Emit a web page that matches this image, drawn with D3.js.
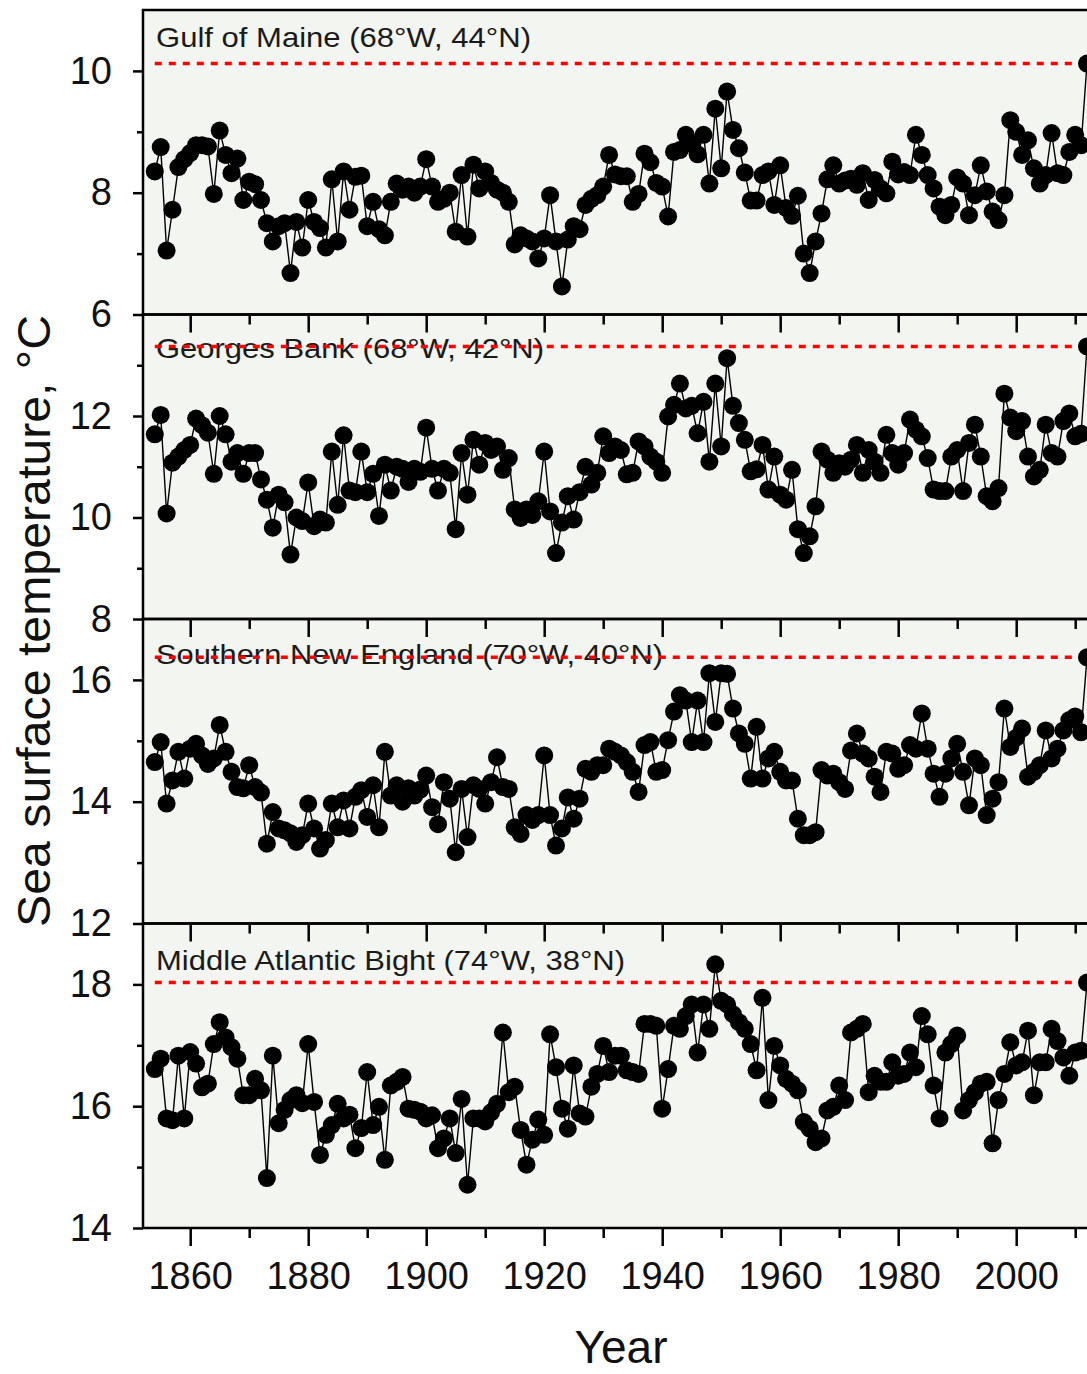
<!DOCTYPE html>
<html><head><meta charset="utf-8">
<script src="https://cdn.jsdelivr.net/npm/d3@7"></script>
<style>body{margin:0;background:#fff}svg{display:block}</style>
</head><body><svg id="c" width="1087" height="1374"></svg>
<script>
const firstYear = 1854, lastYear = 2012;
const years = d3.range(firstYear, lastYear + 1);

const gulfOfMaine = [8.35, 8.75, 7.05, 7.72, 8.42, 8.55,
 8.65, 8.78, 8.78, 8.76, 7.98, 9.02, 8.62, 8.32, 8.56, 7.88,
 8.18, 8.14, 7.88, 7.50, 7.20, 7.45, 7.50, 6.68, 7.52, 7.10,
 7.88, 7.52, 7.42, 7.10, 8.22, 7.20, 8.35, 7.72, 8.26, 8.28,
 7.45, 7.85, 7.40, 7.30, 7.85, 8.15, 8.05, 8.10, 8.00, 8.10,
 8.55, 8.10, 7.85, 7.90, 8.00, 7.36, 8.29, 7.28, 8.46, 8.07,
 8.35, 8.16, 8.05, 8.00, 7.85, 7.15, 7.30, 7.25, 7.20, 6.92,
 7.25, 7.96, 7.20, 6.46, 7.23, 7.45, 7.40, 7.80, 7.90, 7.96,
 8.10, 8.62, 8.30, 8.27, 8.27, 7.85, 7.98, 8.64, 8.50, 8.16,
 8.10, 7.61, 8.67, 8.70, 8.95, 8.80, 8.63, 8.95, 8.15, 9.38,
 8.40, 9.66, 9.03, 8.73, 8.33, 7.87, 7.87, 8.29, 8.35, 7.80,
 8.45, 7.75, 7.62, 7.95, 7.00, 6.68, 7.20, 7.66, 8.22, 8.45,
 8.15, 8.20, 8.23, 8.13, 8.32, 7.88, 8.21, 8.07, 7.99, 8.51,
 8.30, 8.34, 8.29, 8.95, 8.62, 8.29, 8.07, 7.77, 7.63, 7.80,
 8.25, 8.15, 7.63, 7.96, 8.45, 8.02, 7.69, 7.55, 7.96, 9.19,
 9.00, 8.62, 8.86, 8.40, 8.15, 8.29, 8.98, 8.32, 8.29, 8.67,
 8.95, 8.78, 10.12];

const georgesBank = [11.64, 12.02, 10.08, 11.08, 11.20, 11.33,
 11.43, 11.95, 11.82, 11.67, 10.86, 12.00, 11.64, 11.10, 11.27, 10.86,
 11.27, 11.27, 10.75, 10.35, 9.80, 10.45, 10.30, 9.27, 10.00, 9.93,
 10.69, 9.83, 9.96, 9.90, 11.30, 10.25, 11.62, 10.53, 10.50, 11.30,
 10.50, 10.86, 10.03, 11.04, 10.53, 11.00, 10.96, 10.70, 10.96, 10.90,
 11.77, 10.96, 10.53, 10.96, 10.88, 9.77, 11.27, 10.45, 11.53, 11.04,
 11.47, 11.33, 11.40, 10.94, 11.17, 10.16, 9.99, 10.16, 10.05, 10.32,
 11.30, 10.12, 9.30, 9.90, 10.42, 9.96, 10.50, 11.00, 10.65, 10.88,
 11.60, 11.27, 11.40, 11.33, 10.85, 10.88, 11.50, 11.40, 11.20, 11.10,
 10.88, 11.99, 12.22, 12.64, 12.15, 12.20, 11.66, 12.28, 11.10, 12.64,
 11.40, 13.14, 12.20, 11.86, 11.53, 10.91, 10.95, 11.43, 10.55, 11.20,
 10.45, 10.35, 10.94, 9.77, 9.30, 9.63, 10.22, 11.30, 11.14, 10.88,
 11.07, 11.00, 11.14, 11.43, 10.88, 11.33, 11.10, 10.88, 11.63, 11.27,
 11.04, 11.27, 11.93, 11.73, 11.60, 11.17, 10.55, 10.52, 10.52, 11.20,
 11.33, 10.52, 11.47, 11.83, 11.20, 10.42, 10.32, 10.58, 12.44, 11.97,
 11.70, 11.90, 11.20, 10.81, 10.94, 11.83, 11.27, 11.20, 11.90, 12.05,
 11.60, 11.65, 13.37];

const southernNewEngland = [14.65, 14.98, 13.97, 14.35, 14.82, 14.38,
 14.87, 14.95, 14.76, 14.62, 14.71, 15.26, 14.82, 14.49, 14.24, 14.22,
 14.60, 14.24, 14.15, 13.31, 13.83, 13.56, 13.53, 13.48, 13.34, 13.45,
 13.97, 13.56, 13.23, 13.37, 13.97, 13.58, 14.02, 13.56, 14.08, 14.19,
 13.75, 14.27, 13.58, 14.82, 14.10, 14.27, 14.00, 14.22, 14.10, 14.20,
 14.43, 13.91, 13.63, 14.32, 14.05, 13.17, 14.21, 13.42, 14.27, 14.21,
 13.97, 14.32, 14.73, 14.24, 14.21, 13.58, 13.47, 13.78, 13.70, 13.78,
 14.76, 13.78, 13.28, 13.56, 14.07, 13.72, 14.05, 14.54, 14.49, 14.60,
 14.60, 14.87, 14.82, 14.76, 14.65, 14.49, 14.16, 14.93, 14.98, 14.49,
 14.52, 15.01, 15.48, 15.75, 15.66, 14.98, 15.66, 14.98, 16.11, 15.31,
 16.11, 16.10, 15.53, 15.12, 14.95, 14.38, 15.23, 14.38, 14.71, 14.82,
 14.49, 14.35, 14.35, 13.72, 13.45, 13.45, 13.50, 14.52, 14.43, 14.46,
 14.32, 14.21, 14.84, 15.12, 14.79, 14.71, 14.41, 14.16, 14.82, 14.79,
 14.54, 14.60, 14.93, 14.87, 15.45, 14.87, 14.46, 14.08, 14.46, 14.71,
 14.95, 14.49, 13.94, 14.71, 14.60, 13.78, 14.05, 14.32, 15.53, 14.90,
 15.05, 15.20, 14.41, 14.49, 14.60, 15.17, 14.71, 14.87, 15.17, 15.34,
 15.40, 15.14, 16.37];

const middleAtlanticBight = [16.61, 16.78, 15.80, 15.77, 16.83, 15.80,
 16.89, 16.70, 16.31, 16.37, 17.02, 17.38, 17.13, 16.97, 16.78, 16.18,
 16.18, 16.45, 16.26, 14.82, 16.83, 15.72, 15.94, 16.10, 16.18, 16.05,
 17.02, 16.07, 15.20, 15.53, 15.69, 16.04, 15.80, 15.86, 15.31, 15.64,
 16.56, 15.69, 15.99, 15.12, 16.34, 16.40, 16.48, 15.96, 15.94, 15.91,
 15.80, 15.85, 15.31, 15.47, 15.80, 15.23, 16.12, 14.71, 15.80, 15.80,
 15.75, 15.90, 16.04, 17.21, 16.23, 16.32, 15.61, 15.04, 15.45, 15.78,
 15.53, 17.18, 16.64, 15.96, 15.63, 16.67, 15.88, 15.83, 16.32, 16.53,
 16.99, 16.56, 16.83, 16.83, 16.59, 16.56, 16.53, 17.35, 17.35, 17.32,
 15.96, 16.61, 17.32, 17.27, 17.48, 17.67, 16.88, 17.67, 17.27, 18.33,
 17.73, 17.67, 17.51, 17.38, 17.27, 17.02, 16.59, 17.78, 16.10, 16.99,
 16.67, 16.45, 16.37, 16.26, 15.74, 15.63, 15.41, 15.47, 15.93, 15.99,
 16.34, 16.10, 17.21, 17.27, 17.35, 16.23, 16.50, 16.40, 16.40, 16.72,
 16.50, 16.53, 16.88, 16.64, 17.48, 17.18, 16.34, 15.80, 16.88, 17.02,
 17.16, 15.93, 16.10, 16.23, 16.37, 16.40, 15.39, 16.10, 16.53, 17.05,
 16.67, 16.72, 17.24, 16.18, 16.72, 16.72, 17.27, 17.07, 16.80, 16.50,
 16.88, 16.91, 18.03];

const panelTitles = ["Gulf of Maine (68°W, 44°N)", "Georges Bank (68°W, 42°N)",
  "Southern New England (70°W, 40°N)", "Middle Atlantic Bight (74°W, 38°N)"];
const yDomains = [[6, 11], [8, 14], [12, 17], [14, 19]];
const yMajorTicks = [[6, 8, 10], [8, 10, 12], [12, 14, 16], [14, 16, 18]];
const yMinorTicks = [[7, 9], [9, 11, 13], [13, 15], [15, 17]];
const xDomain = [1852, 2012];
const xMajorTicks = [1860, 1880, 1900, 1920, 1940, 1960, 1980, 2000];
const xMinorTicks = [1870, 1890, 1910, 1930, 1950, 1970, 1990, 2010];
const xTitle = "Year";
const yTitle = "Sea surface temperature, °C";
const series = [gulfOfMaine, georgesBank, southernNewEngland, middleAtlanticBight];

// ---- layout / style ----
const L = 143, R = 1087, T = 10, B = 1228;
const panelH = (B - T) / 4;
const titleBaselines = [47, 358, 664, 970];
const titleWidths = [375, 388, 507, 469];
const FONT = "'Liberation Sans', Arial, sans-serif";
const BG = "#f2f5f0";

const svg = d3.select("#c");
svg.append("rect").attr("width", 1087).attr("height", 1374).attr("fill", "#fff");

const x = d3.scaleLinear().domain(xDomain).range([L, R]);

const panels = series.map((vals, i) => {
  const y0 = T + i * panelH;
  const y = d3.scaleLinear().domain(yDomains[i]).range([y0 + panelH, y0]);
  return {vals, i, y0, y};
});

// backgrounds
panels.forEach(p => {
  svg.append("rect").attr("x", L).attr("y", p.y0).attr("width", R - L + 20).attr("height", panelH)
    .attr("fill", BG);
});

panels.forEach(p => {
  const g = svg.append("g");
  g.append("text").attr("x", 156).attr("y", titleBaselines[p.i])
    .attr("font-family", FONT).attr("font-size", 28).attr("fill", "#1a1a1a")
    .attr("textLength", titleWidths[p.i]).attr("lengthAdjust", "spacingAndGlyphs")
    .text(panelTitles[p.i]);
  const lastV = p.vals[p.vals.length - 1];
  g.append("line").attr("x1", x(years[0])).attr("x2", x(years[years.length - 1]))
    .attr("y1", p.y(lastV)).attr("y2", p.y(lastV))
    .attr("stroke", "#ff0000").attr("stroke-width", 3.5).attr("stroke-dasharray", "7 7");
  const line = d3.line().x((d, k) => x(years[k])).y(d => p.y(d));
  g.append("path").datum(p.vals).attr("d", line).attr("fill", "none")
    .attr("stroke", "#000").attr("stroke-width", 1.4);
  g.selectAll("circle").data(p.vals).join("circle")
    .attr("cx", (d, k) => x(years[k])).attr("cy", d => p.y(d)).attr("r", 9).attr("fill", "#000");
});

// frames and axes
panels.forEach(p => {
  svg.append("rect").attr("x", L).attr("y", p.y0).attr("width", R - L + 20).attr("height", panelH)
    .attr("fill", "none").attr("stroke", "#000").attr("stroke-width", 2.5);

  const isLast = p.i === 3;
  const gx = svg.append("g").attr("transform", `translate(0,${p.y0 + panelH})`);
  gx.call(d3.axisBottom(x).tickValues(xMajorTicks).tickSize(18).tickSizeOuter(0).tickPadding(16)
      .tickFormat(isLast ? d3.format("d") : () => ""));
  const gxm = svg.append("g").attr("transform", `translate(0,${p.y0 + panelH})`);
  gxm.call(d3.axisBottom(x).tickValues(xMinorTicks).tickSize(10).tickSizeOuter(0).tickFormat(() => ""));

  const gy = svg.append("g").attr("transform", `translate(${L},0)`);
  gy.call(d3.axisLeft(p.y).tickValues(yMajorTicks[p.i]).tickSize(10).tickSizeOuter(0).tickPadding(21)
      .tickFormat(d3.format("d")));
  const gym = svg.append("g").attr("transform", `translate(${L},0)`);
  gym.call(d3.axisLeft(p.y).tickValues(yMinorTicks[p.i]).tickSize(6).tickSizeOuter(0).tickFormat(() => ""));

  [gx, gxm, gy, gym].forEach(a => {
    a.select(".domain").remove();
    a.selectAll(".tick line").attr("stroke", "#000").attr("stroke-width", 2.5);
    a.selectAll(".tick text").attr("font-family", FONT).attr("font-size", 38).attr("fill", "#111");
  });
});

// axis titles
svg.append("text").attr("x", 621).attr("y", 1363).attr("text-anchor", "middle")
  .attr("font-family", FONT).attr("font-size", 46).attr("fill", "#111").text(xTitle);
svg.append("text").attr("transform", "translate(50,621) rotate(-90)").attr("text-anchor", "middle")
  .attr("font-family", FONT).attr("font-size", 46).attr("fill", "#111")
  .attr("textLength", 612).attr("lengthAdjust", "spacingAndGlyphs").text(yTitle);
</script></body></html>
